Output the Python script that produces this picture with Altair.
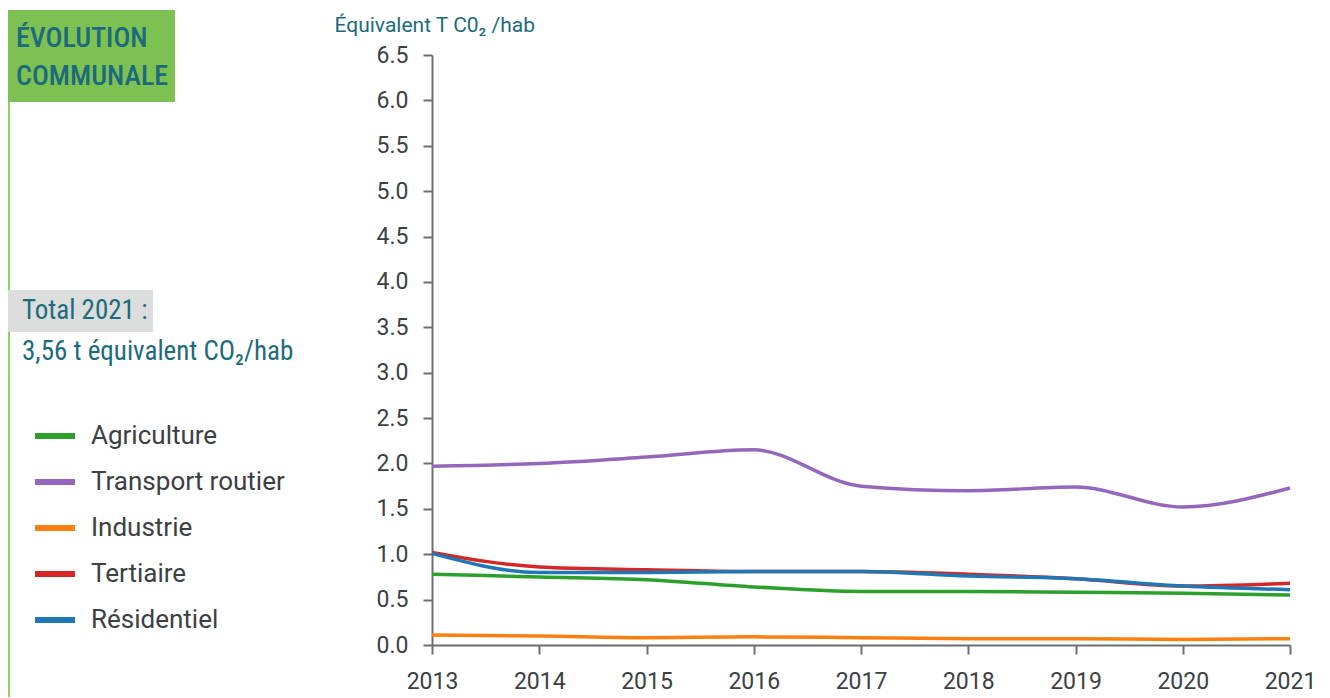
import altair as alt
import pandas as pd

years = [2013, 2014, 2015, 2016, 2017, 2018, 2019, 2020, 2021]
sectors = ["Agriculture", "Transport routier", "Industrie", "Tertiaire", "Résidentiel"]
colors = ["#2ca02c", "#9467bd", "#ff7f0e", "#d62728", "#1f77b4"]

agriculture = [0.78, 0.75, 0.72, 0.64, 0.59, 0.59, 0.58, 0.57, 0.55]
transport = [1.97, 2.00, 2.07, 2.15, 1.75, 1.70, 1.74, 1.52, 1.73]
industrie = [0.11, 0.10, 0.08, 0.09, 0.08, 0.07, 0.07, 0.06, 0.07]
tertiaire = [1.02, 0.86, 0.83, 0.81, 0.81, 0.78, 0.73, 0.65, 0.68]
residentiel = [1.01, 0.80, 0.80, 0.81, 0.81, 0.76, 0.73, 0.65, 0.61]

y_ticks = [0, 0.5, 1, 1.5, 2, 2.5, 3, 3.5, 4, 4.5, 5, 5.5, 6, 6.5]

series = [agriculture, transport, industrie, tertiaire, residentiel]
rows = []
for i, (name, vals) in enumerate(zip(sectors, series)):
    for yr, v in zip(years, vals):
        rows.append({"annee": yr, "valeur": v, "secteur": name, "ordre": i})
df = pd.DataFrame(rows)

TEAL = "#1b6b7d"
NARROW = "Roboto Condensed, DejaVu Sans Condensed, Liberation Sans Narrow, Roboto"
AXIS_FONT = "Roboto"

lines = alt.Chart(df).mark_line(interpolate="monotone", strokeWidth=3.5).encode(
    x=alt.X("annee:Q",
            scale=alt.Scale(domain=[2013, 2021], nice=False, zero=False),
            axis=alt.Axis(values=years, format="d", title=None, grid=False,
                          labelFontSize=23, labelColor="#3c4043", labelFont=AXIS_FONT,
                          domainColor="#6a6e73", domainWidth=2, tickColor="#6a6e73",
                          tickWidth=2, tickSize=9, labelPadding=16, labelFlush=False)),
    y=alt.Y("valeur:Q",
            scale=alt.Scale(domain=[0, 6.5], nice=False),
            axis=alt.Axis(values=y_ticks, format=".1f", grid=False,
                          title="Équivalent T C0₂ /hab", titleAngle=0, titleAlign="left",
                          titleBaseline="middle", titleX=-98, titleY=-30,
                          titleFontSize=21, titleFontWeight="normal", titleColor=TEAL,
                          titleFont=AXIS_FONT,
                          labelFontSize=23, labelColor="#3c4043", labelFont=AXIS_FONT,
                          domainColor="#6a6e73", domainWidth=2, tickColor="#6a6e73",
                          tickWidth=2, tickSize=9, labelPadding=15)),
    color=alt.Color("secteur:N",
                    scale=alt.Scale(domain=sectors, range=colors),
                    legend=alt.Legend(title=None, orient="none", legendX=-400, legendY=358,
                                      symbolType="stroke", symbolSize=1600,
                                      symbolStrokeWidth=6, labelFontSize=26,
                                      labelFont=AXIS_FONT, labelColor="#3c4043",
                                      labelOffset=13, rowPadding=10, labelLimit=300)),
    order=alt.Order("ordre:Q"),
    detail="secteur:N",
)

# Left-hand decorative panel
green_box = alt.Chart(pd.DataFrame({"a": [0]})).mark_rect(color="#7dc152").encode(
    x=alt.value(-424), x2=alt.value(-257), y=alt.value(-45), y2=alt.value(47))
green_line = alt.Chart(pd.DataFrame({"a": [0]})).mark_rule(color="#8fd16b", strokeWidth=2).encode(
    x=alt.value(-423), y=alt.value(47), y2=alt.value(660))
gray_box = alt.Chart(pd.DataFrame({"a": [0]})).mark_rect(color="#dcdddd").encode(
    x=alt.value(-424), x2=alt.value(-279), y=alt.value(235), y2=alt.value(277))

title1 = alt.Chart(pd.DataFrame({"t": ["ÉVOLUTION"]})).mark_text(
    align="left", baseline="middle", font=NARROW, fontSize=28, color=TEAL, fontWeight=500
).encode(x=alt.value(-416), y=alt.value(-16), text="t:N")
title2 = alt.Chart(pd.DataFrame({"t": ["COMMUNALE"]})).mark_text(
    align="left", baseline="middle", font=NARROW, fontSize=28, color=TEAL, fontWeight=500
).encode(x=alt.value(-416), y=alt.value(22), text="t:N")
total1 = alt.Chart(pd.DataFrame({"t": ["Total 2021 :"]})).mark_text(
    align="left", baseline="middle", font=NARROW, fontSize=27, color=TEAL
).encode(x=alt.value(-410), y=alt.value(256), text="t:N")
total2 = alt.Chart(pd.DataFrame({"t": ["3,56 t équivalent CO₂/hab"]})).mark_text(
    align="left", baseline="middle", font=NARROW, fontSize=27, color=TEAL
).encode(x=alt.value(-410), y=alt.value(297), text="t:N")

chart = alt.layer(
    green_box, green_line, gray_box, title1, title2, total1, total2, lines
).properties(
    width=858, height=590,
    padding={"left": 424, "top": 47, "right": 30, "bottom": 52},
    autosize=alt.AutoSizeParams(type="none"),
).configure_view(stroke=None)

chart.save("out.html", embed_options={"renderer": "svg", "actions": False})
